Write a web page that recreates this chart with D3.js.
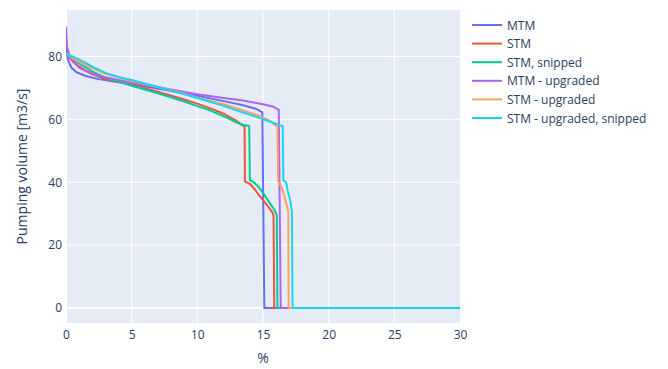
<!DOCTYPE html>
<html>
<head>
<meta charset="utf-8">
<script src="https://cdn.jsdelivr.net/npm/d3@7"></script>
<style>
  body { margin: 0; background: #fff; }
  text { font-family: "Open Sans", verdana, arial, sans-serif; fill: #2a3f5f; }
</style>
</head>
<body>
<div id="chart"></div>
<script>
// series names and colours (plotly defaults)
var names = ["MTM", "STM", "STM, snipped", "MTM - upgraded", "STM - upgraded", "STM - upgraded, snipped"];
var colors = ["#636efa", "#EF553B", "#00cc96", "#ab63fa", "#FFA15A", "#19d3f3"];

// [% , pumping volume]
var mtm = [[0,83],[0.15,79],[0.4,76.5],[0.8,75],[1.5,73.8],[2.5,72.8],[4,71.8],[6,70.5],[8,69],[10,67.5],[12,65.8],[13.5,64.5],[14.5,63.3],[14.95,62.2],[15.1,0],[30,0]];
var stm = [[0,81],[0.5,78.5],[1,76.5],[2,74.3],[3,72.8],[5,71],[7,68.8],[9,66.3],[10,65],[11,63.5],[12,61.8],[13,59.5],[13.4,58.2],[13.6,57.8],[13.62,40.3],[14,39.5],[14.4,37.6],[14.8,35.3],[15.3,32.8],[15.7,30.5],[15.8,29.5],[15.86,0],[30,0]];
var stmSnipped = [[0,81],[0.5,79.3],[1,77.8],[2,75.3],[3,73.3],[5,70.7],[7,68.3],[9,65.7],[10,64.2],[11,62.8],[12,61],[13,59],[13.5,58.2],[13.95,57.9],[14,40.6],[14.3,40],[14.7,38.3],[15.1,36],[15.5,33.5],[15.9,31],[16.05,29.5],[16.1,0],[30,0]];
var mtmUp = [[0,89.5],[0.08,83],[0.3,80],[0.8,77.5],[1.5,75.5],[2.5,73.8],[4,72.5],[6,71],[8,69.5],[10,68],[12,66.8],[13.5,66],[15,64.8],[15.8,64],[16.2,63],[16.35,0],[30,0]];
var stmUp = [[0,81],[0.5,79.5],[1,78.3],[1.5,77.3],[2,76.3],[3,74.5],[4,73.2],[5,72.3],[7,70.3],[9,68.2],[10,67],[12,64.8],[13.25,63.2],[14.8,61],[15.5,59.6],[15.9,58.3],[16.1,57.8],[16.15,40.3],[16.4,38.5],[16.6,36],[16.85,32],[16.93,30.5],[16.95,0],[30,0]];
var stmUpSnipped = [[0,80.6],[0.5,80],[1,79],[1.5,78],[2,76.8],[3,74.8],[4,73.5],[5,72.5],[7,70.3],[9,68],[10,66.8],[12,64.3],[13.25,62.5],[14.8,60.4],[15.5,59.3],[16.5,57.8],[16.55,40.5],[16.75,40],[16.9,37],[17.1,33.5],[17.2,30.5],[17.25,0],[30,0]];

var xTicks = [0, 5, 10, 15, 20, 25, 30];
var yTicks = [0, 20, 40, 60, 80];

var allSeries = [mtm, stm, stmSnipped, mtmUp, stmUp, stmUpSnipped];

var width = 668, height = 369;
var margin = { top: 10, right: 208, bottom: 46, left: 66 };
var w = width - margin.left - margin.right,
    h = height - margin.top - margin.bottom;

var svg = d3.select("#chart").append("svg")
    .attr("width", width)
    .attr("height", height);

var xScale = d3.scaleLinear().domain([0, 30]).range([0, w]);
var yScale = d3.scaleLinear().domain([-4.8, 94.8]).range([h, 0]);

var g = svg.append("g")
    .attr("transform", "translate(" + margin.left + "," + margin.top + ")");

// background
g.append("rect")
    .attr("width", w).attr("height", h)
    .attr("fill", "#E5ECF6");

// grid
g.selectAll("line.xgrid")
    .data(xTicks.filter(function(d) { return d > 0 && d < 30; }))
    .enter().append("line")
    .attr("x1", function(d) { return xScale(d); })
    .attr("x2", function(d) { return xScale(d); })
    .attr("y1", 0).attr("y2", h)
    .attr("stroke", "#fff").attr("stroke-width", 1);

g.selectAll("line.ygrid")
    .data(yTicks)
    .enter().append("line")
    .attr("x1", 0).attr("x2", w)
    .attr("y1", function(d) { return yScale(d); })
    .attr("y2", function(d) { return yScale(d); })
    .attr("stroke", "#fff")
    .attr("stroke-width", function(d) { return d === 0 ? 2 : 1; });

// zero line on x
g.append("line")
    .attr("x1", xScale(0)).attr("x2", xScale(0))
    .attr("y1", 0).attr("y2", h)
    .attr("stroke", "#fff").attr("stroke-width", 2);

// clip
g.append("clipPath").attr("id", "clip")
    .append("rect").attr("width", w).attr("height", h);

var line = d3.line()
    .x(function(d) { return xScale(d[0]); })
    .y(function(d) { return yScale(d[1]); });

g.append("g").attr("clip-path", "url(#clip)")
    .selectAll("path")
    .data(allSeries)
    .enter().append("path")
    .attr("d", line)
    .attr("fill", "none")
    .attr("stroke", function(d, i) { return colors[i]; })
    .attr("stroke-width", 2)
    .attr("stroke-linejoin", "round");

// axes
var xAxis = d3.axisBottom(xScale).tickValues(xTicks).tickSize(0).tickPadding(7);
var xg = g.append("g").attr("transform", "translate(0," + h + ")").call(xAxis);
xg.select(".domain").remove();
xg.selectAll("text").style("font-size", "12px").attr("fill", "#2a3f5f");

var yAxis = d3.axisLeft(yScale).tickValues(yTicks).tickSize(0).tickPadding(4);
var yg = g.append("g").call(yAxis);
yg.select(".domain").remove();
yg.selectAll("text").style("font-size", "12px").attr("fill", "#2a3f5f");

// axis titles
svg.append("text")
    .attr("x", margin.left + w / 2)
    .attr("y", 363)
    .attr("text-anchor", "middle")
    .style("font-size", "14px")
    .text("%");

svg.append("text")
    .attr("transform", "translate(27," + (margin.top + h / 2) + ") rotate(-90)")
    .attr("text-anchor", "middle")
    .style("font-size", "14px")
    .text("Pumping volume [m3/s]");

// legend
var legend = svg.append("g").attr("transform", "translate(472,25)");
var items = legend.selectAll("g")
    .data(names)
    .enter().append("g")
    .attr("transform", function(d, i) { return "translate(0," + (i * 18.6) + ")"; });

items.append("line")
    .attr("x1", 0).attr("x2", 30)
    .attr("stroke", function(d, i) { return colors[i]; })
    .attr("stroke-width", 2);

items.append("text")
    .attr("x", 35)
    .attr("y", 4.5)
    .style("font-size", "12px")
    .text(function(d) { return d; });
</script>
</body>
</html>
